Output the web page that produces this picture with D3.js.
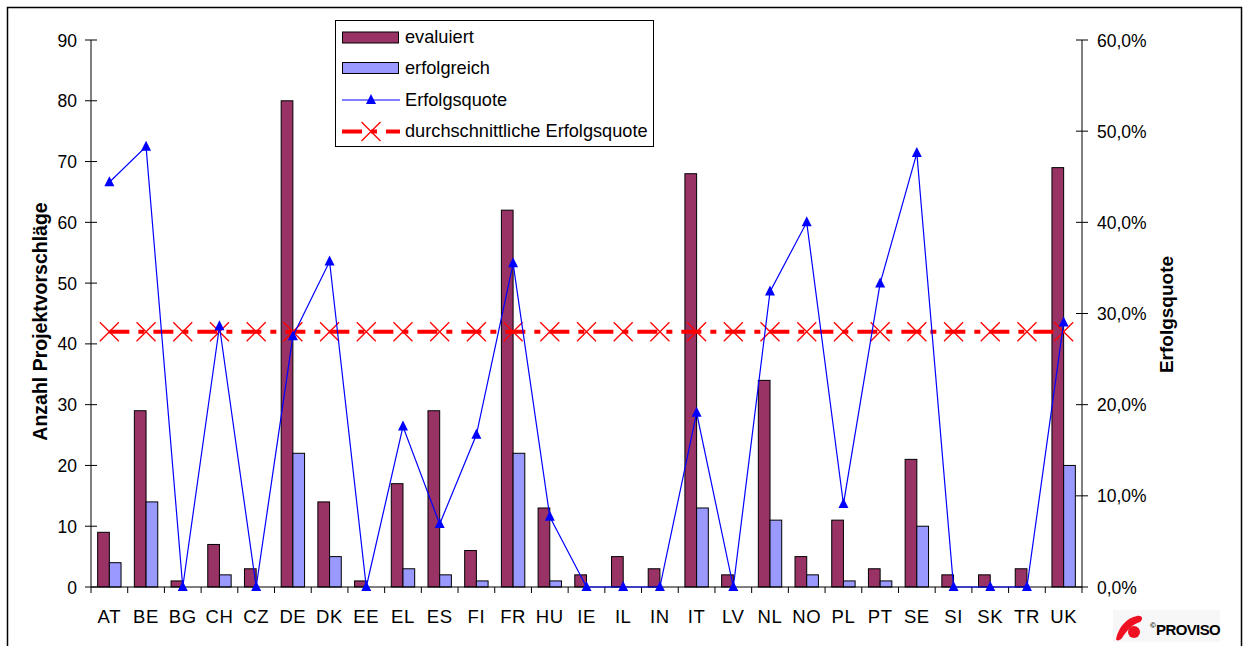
<!DOCTYPE html>
<html>
<head>
<meta charset="utf-8">
<script src="https://cdn.jsdelivr.net/npm/d3@7"></script>
<style>
  body { margin: 0; background: #fff; }
  svg { display: block; }
  text { font-family: "Liberation Sans", Arial, sans-serif; fill: #000; }
</style>
</head>
<body>
<svg id="chart" width="1248" height="646"></svg>
<script>
// Country codes along the x axis
const countries = ["AT","BE","BG","CH","CZ","DE","DK","EE","EL","ES","FI","FR","HU","IE","IL","IN","IT","LV","NL","NO","PL","PT","SE","SI","SK","TR","UK"];
// Number of evaluated proposals per country
const evaluiert = [9,29,1,7,3,80,14,1,17,29,6,62,13,2,5,3,68,2,34,5,11,3,21,2,2,3,69];
// Number of successful proposals per country
const erfolgreich = [4,14,0,2,0,22,5,0,3,2,1,22,1,0,0,0,13,0,11,2,1,1,10,0,0,0,20];
// Success rate per country (share of successful among evaluated)
const erfolgsquote = [0.444,0.483,0,0.286,0,0.275,0.357,0,0.176,0.069,0.167,0.355,0.077,0,0,0,0.191,0,0.324,0.40,0.091,0.333,0.476,0,0,0,0.290];
// Average success rate, drawn as a flat reference line
const durchschnitt = countries.map(() => 0.28);
// Axis tick values
const leftTicks = [0,10,20,30,40,50,60,70,80,90];
const rightTicks = [0,0.1,0.2,0.3,0.4,0.5,0.6];

const svg = d3.select("#chart");
const plotLeft = 91, plotRight = 1082, plotTop = 40, plotBottom = 587;

const x = d3.scaleBand().domain(countries).range([plotLeft, plotRight]).paddingInner(0).paddingOuter(0);
const yL = d3.scaleLinear().domain([0, 90]).range([plotBottom, plotTop]);
const yR = d3.scaleLinear().domain([0, 0.6]).range([plotBottom, plotTop]);
const bw = x.bandwidth();
const barW = 11.7;
const groupOff = (bw - 2 * barW) / 2;

// Outer frame
svg.append("rect").attr("x", 7.5).attr("y", 7.5).attr("width", 1234).attr("height", 660)
  .attr("fill", "none").attr("stroke", "#000").attr("stroke-width", 1.5);

// Bars: evaluated
svg.append("g").selectAll("rect").data(countries).join("rect")
  .attr("x", (d) => x(d) + groupOff)
  .attr("y", (d, i) => yL(evaluiert[i]))
  .attr("width", barW)
  .attr("height", (d, i) => yL(0) - yL(evaluiert[i]))
  .attr("fill", "#993366").attr("stroke", "#000").attr("stroke-width", 1);

// Bars: successful
svg.append("g").selectAll("rect").data(countries).join("rect")
  .attr("x", (d) => x(d) + groupOff + barW)
  .attr("y", (d, i) => yL(erfolgreich[i]))
  .attr("width", barW)
  .attr("height", (d, i) => yL(0) - yL(erfolgreich[i]))
  .attr("fill", "#9999FF").attr("stroke", "#000").attr("stroke-width", 1);

// Left axis
const gL = svg.append("g").attr("transform", `translate(${plotLeft},0)`);
gL.append("line").attr("x1", 0).attr("x2", 0).attr("y1", plotTop).attr("y2", plotBottom).attr("stroke", "#000");
gL.selectAll("line.t").data(leftTicks).join("line").attr("class", "t")
  .attr("x1", -6).attr("x2", 6).attr("y1", (d) => yL(d)).attr("y2", (d) => yL(d)).attr("stroke", "#000");
gL.selectAll("text").data(leftTicks).join("text")
  .attr("x", -14).attr("y", (d) => yL(d) + 6.5)
  .attr("text-anchor", "end").attr("font-size", 17.5).text((d) => d);

// Right axis
const gR = svg.append("g").attr("transform", `translate(${plotRight},0)`);
gR.append("line").attr("x1", 0).attr("x2", 0).attr("y1", plotTop).attr("y2", plotBottom).attr("stroke", "#000");
gR.selectAll("line.t").data(rightTicks).join("line").attr("class", "t")
  .attr("x1", -6).attr("x2", 6).attr("y1", (d) => yR(d)).attr("y2", (d) => yR(d)).attr("stroke", "#000");
const pct = (d) => d3.format(".1f")(d * 100).replace(".", ",") + "%";
gR.selectAll("text").data(rightTicks).join("text")
  .attr("x", 15).attr("y", (d) => yR(d) + 6.5)
  .attr("text-anchor", "start").attr("font-size", 17.5).text(pct);

// X axis with category boundary ticks
const gX = svg.append("g");
gX.append("line").attr("x1", plotLeft).attr("x2", plotRight).attr("y1", plotBottom).attr("y2", plotBottom).attr("stroke", "#000");
const bounds = countries.map((c) => x(c)).concat([plotRight]);
gX.selectAll("line.t").data(bounds).join("line").attr("class", "t")
  .attr("x1", (d) => d).attr("x2", (d) => d).attr("y1", plotBottom).attr("y2", plotBottom + 6).attr("stroke", "#000");
gX.selectAll("text").data(countries).join("text")
  .attr("x", (d) => x(d) + bw / 2).attr("y", 623)
  .attr("text-anchor", "middle").attr("font-size", 18.5).attr("letter-spacing", 0.6).text((d) => d);

// Axis titles
svg.append("text").attr("transform", `translate(47,321.5) rotate(-90)`)
  .attr("text-anchor", "middle").attr("font-size", 19.5).attr("font-weight", "bold")
  .text("Anzahl Projektvorschläge");
svg.append("text").attr("transform", `translate(1173,314.5) rotate(-90)`)
  .attr("text-anchor", "middle").attr("font-size", 19).attr("font-weight", "bold")
  .text("Erfolgsquote");

// Average success rate line
const cx = (d) => x(d) + bw / 2;
const avgLine = d3.line().x((d, i) => cx(countries[i])).y((d) => yR(d));
svg.append("path").datum(durchschnitt).attr("d", avgLine)
  .attr("fill", "none").attr("stroke", "#FF0000").attr("stroke-width", 4)
  .attr("stroke-dasharray", "20,9,6,9");
const xMark = "M-9.5,-9.5L9.5,9.5M-9.5,9.5L9.5,-9.5";
svg.append("g").selectAll("path").data(durchschnitt).join("path")
  .attr("transform", (d, i) => `translate(${cx(countries[i])},${yR(d)})`)
  .attr("d", xMark).attr("stroke", "#FF0000").attr("stroke-width", 1.3).attr("fill", "none");

// Success rate line with triangle markers
const rateLine = d3.line().x((d, i) => cx(countries[i])).y((d) => yR(d));
svg.append("path").datum(erfolgsquote).attr("d", rateLine)
  .attr("fill", "none").attr("stroke", "#0000FF").attr("stroke-width", 1.2);
const tri = "M0,-6L5,4L-5,4Z";
svg.append("g").selectAll("path").data(erfolgsquote).join("path")
  .attr("transform", (d, i) => `translate(${cx(countries[i])},${yR(d)})`)
  .attr("d", tri).attr("fill", "#0000FF");

// Legend
const lg = svg.append("g");
lg.append("rect").attr("x", 335.5).attr("y", 20.5).attr("width", 318).attr("height", 126)
  .attr("fill", "#fff").attr("stroke", "#000").attr("stroke-width", 1);
const rows = [37.5, 68, 100, 131.5];
lg.append("rect").attr("x", 342.5).attr("y", rows[0] - 5.5).attr("width", 56).attr("height", 11)
  .attr("fill", "#993366").attr("stroke", "#000");
lg.append("rect").attr("x", 342.5).attr("y", rows[1] - 5.5).attr("width", 56).attr("height", 11)
  .attr("fill", "#9999FF").attr("stroke", "#000");
lg.append("line").attr("x1", 342).attr("x2", 400).attr("y1", rows[2]).attr("y2", rows[2])
  .attr("stroke", "#0000FF").attr("stroke-width", 1.2);
lg.append("path").attr("transform", `translate(371,${rows[2]})`).attr("d", tri).attr("fill", "#0000FF");
lg.append("line").attr("x1", 342).attr("x2", 400).attr("y1", rows[3]).attr("y2", rows[3])
  .attr("stroke", "#FF0000").attr("stroke-width", 4).attr("stroke-dasharray", "20,9,6,9");
lg.append("path").attr("transform", `translate(371,${rows[3]})`).attr("d", xMark)
  .attr("stroke", "#FF0000").attr("stroke-width", 1.3).attr("fill", "none");
const legendLabels = ["evaluiert", "erfolgreich", "Erfolgsquote", "durchschnittliche Erfolgsquote"];
lg.selectAll("text").data(legendLabels).join("text")
  .attr("x", 405).attr("y", (d, i) => rows[i] + 5.5).attr("font-size", 18.2).text((d) => d);

// Logo
const logo = svg.append("g").attr("transform", "translate(1113,610)");
logo.append("rect").attr("width", 107).attr("height", 32).attr("fill", "#f7f7f7");
logo.append("path").attr("d", "M3,29 C6,16 14,8 24,6 C29,5 31,9 27,12 C20,14 14,20 9,28 C7,31 3,31 3,29 Z")
  .attr("fill", "#EE1122");
logo.append("circle").attr("cx", 21).attr("cy", 22).attr("r", 6).attr("fill", "#EE1122");
logo.append("text").attr("x", 37).attr("y", 18).attr("font-size", 8).attr("font-weight", "bold").text("©");
logo.append("text").attr("x", 43).attr("y", 25).attr("font-size", 15).attr("font-weight", "bold")
  .attr("letter-spacing", "-0.6").text("PROVISO");
</script>
</body>
</html>
